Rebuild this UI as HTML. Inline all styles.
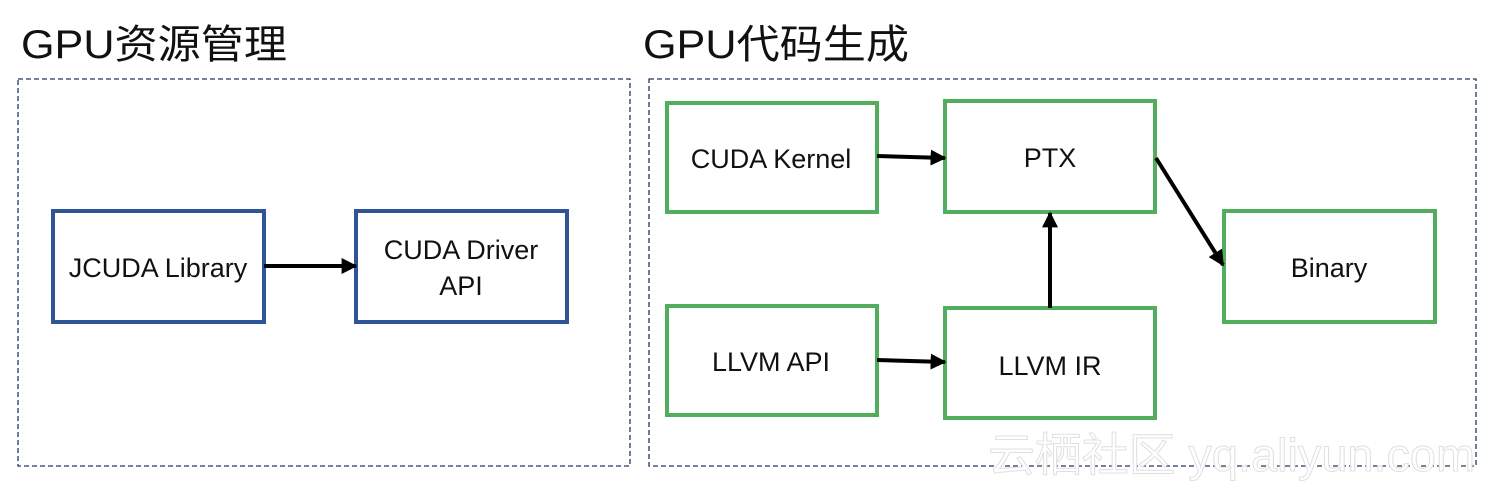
<!DOCTYPE html>
<html><head><meta charset="utf-8"><style>
html,body{margin:0;padding:0;background:#fff;}
svg{display:block;}
text{font-family:"Liberation Sans","Noto Sans CJK SC",sans-serif;}
</style></head><body>
<svg width="1490" height="488" viewBox="0 0 1490 488" xmlns="http://www.w3.org/2000/svg">
<defs>
<marker id="a" viewBox="0 0 10 10" refX="9" refY="5" markerWidth="4" markerHeight="4" orient="auto" markerUnits="strokeWidth"><path d="M0,0 L10,5 L0,10 z" fill="#000"/></marker>
</defs>
<text x="21" y="58" font-size="40" fill="#111" textLength="266" lengthAdjust="spacingAndGlyphs">GPU资源管理</text>
<text x="643" y="58" font-size="40" fill="#111" textLength="266" lengthAdjust="spacingAndGlyphs">GPU代码生成</text>
<rect x="18" y="79" width="612" height="387" fill="none" stroke="#203864" stroke-width="1.3" stroke-dasharray="5,3"/>
<rect x="649" y="79" width="827" height="387" fill="none" stroke="#203864" stroke-width="1.3" stroke-dasharray="5,3"/>
<g fill="#fff" stroke="#2F5597" stroke-width="4">
<rect x="53" y="211" width="211" height="111"/>
<rect x="356" y="211" width="211" height="111"/>
</g>
<g fill="#fff" stroke="#52AE5E" stroke-width="4">
<rect x="667" y="103" width="210" height="109"/>
<rect x="945" y="101" width="210" height="111"/>
<rect x="1224" y="211" width="211" height="111"/>
<rect x="667" y="306" width="210" height="109"/>
<rect x="945" y="308" width="210" height="110"/>
</g>
<g font-size="27" fill="#111" text-anchor="middle">
<text x="158" y="277">JCUDA Library</text>
<text x="461" y="259">CUDA Driver</text>
<text x="461" y="295">API</text>
<text x="771" y="168">CUDA Kernel</text>
<text x="1050" y="167">PTX</text>
<text x="1329" y="277">Binary</text>
<text x="771" y="371">LLVM API</text>
<text x="1050" y="375">LLVM IR</text>
</g>
<g stroke="#000" stroke-width="4" marker-end="url(#a)">
<line x1="264" y1="266" x2="356" y2="266"/>
<line x1="877" y1="156" x2="945" y2="158"/>
<line x1="877" y1="360" x2="945" y2="362"/>
<line x1="1050" y1="308" x2="1050" y2="213"/>
<line x1="1156" y1="158" x2="1223" y2="265"/>
</g>
<text x="988" y="471" font-size="46" fill="#fff" stroke="#e0e0e0" stroke-width="1" textLength="487" lengthAdjust="spacingAndGlyphs">云栖社区 yq.aliyun.com</text>
</svg>
</body></html>
